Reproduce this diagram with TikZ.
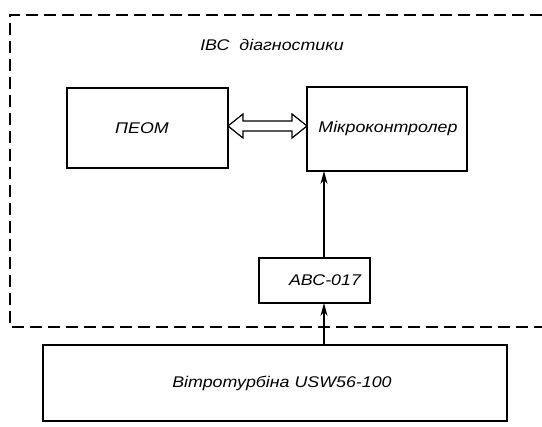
\documentclass[tikz,border=0pt]{standalone}
\usepackage{fontspec}
\setmainfont{Liberation Sans}
\newfontfamily\lblfont[FakeStretch=1.15]{Liberation Sans}
\usetikzlibrary{arrows.meta,calc}
\begin{document}
\begin{tikzpicture}[x=1pt,y=-1pt,
  box/.style={draw,line width=1.4pt,inner sep=0pt},
  lbl/.style={font=\lblfont\itshape\fontsize{15.5}{18}\selectfont},
  frame/.style={line width=1.2pt,dash pattern=on 12pt off 6pt},
  conn/.style={line width=1.2pt,-{Stealth[length=13pt,width=7pt]}}]
\useasboundingbox (0,0) rectangle (542,427);
% dashed frame
\coordinate (ftr) at (542,15);
\coordinate (ftl) at (10,15);
\coordinate (fbl) at (10,327);
\coordinate (fbr) at (542,327);
\draw[frame] (ftr) -- (ftl) -- (fbl) -- (fbr);
\node[lbl] (title) at (272,45) {ІВС \ діагностики};
% boxes
\draw[box] (67,88) rectangle (228,168);
\node[lbl] (peom) at (142,128) {ПЕОМ};
\coordinate (peomE) at (228,126);
\draw[box] (307,87) rectangle (467,171);
\node[lbl] (mc) at (388,128) {Мікроконтролер};
\coordinate (mcW) at (307,126);
\coordinate (mcS) at (324,171);
\draw[box] (259,258) rectangle (370,303);
\node[lbl] (abc) at (325,280.5) {АВС-017};
\coordinate (abcN) at (324,258);
\coordinate (abcS) at (324,303);
\draw[box] (43,345) rectangle (507,421);
\node[lbl] (wt) at (282,383) {Вітротурбіна USW56-100};
\coordinate (wtN) at (324,345);
% double block arrow
\draw[line width=1.2pt,line join=miter]
  (peomE) -- ($(peomE)+(15,-12)$) -- ($(peomE)+(15,-5)$) -- ($(mcW)+(-15,-5)$)
  -- ($(mcW)+(-15,-12)$) -- (mcW) -- ($(mcW)+(-15,12)$) -- ($(mcW)+(-15,5)$)
  -- ($(peomE)+(15,5)$) -- ($(peomE)+(15,12)$) -- cycle;
% connectors
\draw[conn] (abcN) -- (mcS);
\draw[conn] (wtN) -- (abcS);
\end{tikzpicture}
\end{document}
